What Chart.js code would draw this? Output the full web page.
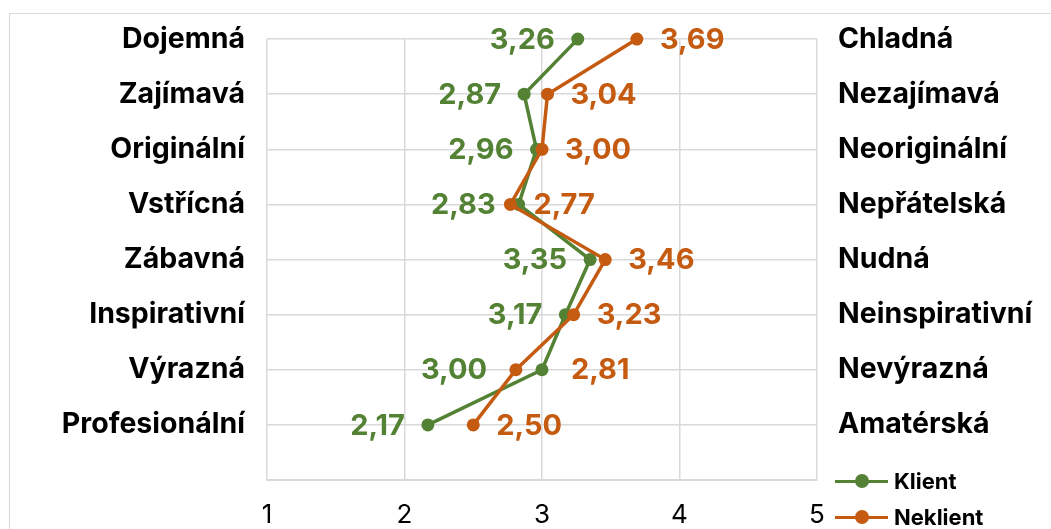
<!DOCTYPE html>
<html lang="cs">
<head>
<meta charset="utf-8">
<title>Vnímání značky – Klient vs. Neklient</title>
<script src="https://cdn.jsdelivr.net/npm/chart.js@4/dist/chart.umd.min.js"></script>
<style>
  html, body { margin: 0; padding: 0; background: #fff; }
  #wrap { position: relative; width: 1051px; height: 529px; overflow: hidden; }
  #frame { position: absolute; left: 9px; top: 13px; width: 1100px; height: 600px;
           border: 1px solid #d9d9d9; box-sizing: border-box; }
  #chart { position: absolute; left: 0; top: 0; }
  .legend { position: absolute; left: 835px; font: 700 22px Inter, sans-serif; color: #000; }
  .legend div { position: absolute; height: 30px; display: flex; align-items: center; white-space: nowrap; }
  .legend .mark { position: relative; width: 53px; height: 14px; margin-right: 6px; }
  .legend .mark i { position: absolute; left: 0; right: 0; top: 5.5px; height: 3.5px; }
  .legend .mark b { position: absolute; left: 20px; top: 0; width: 14px; height: 14px; border-radius: 50%; }
</style>
</head>
<body>
<div id="wrap">
  <div id="frame"></div>
  <canvas id="chart" width="1051" height="529"></canvas>
  <div class="legend" id="legend"></div>
</div>
<script>
// Data
const leftLabels = ['Dojemná', 'Zajímavá', 'Originální', 'Vstřícná', 'Zábavná', 'Inspirativní', 'Výrazná', 'Profesionální'];
const rightLabels = ['Chladná', 'Nezajímavá', 'Neoriginální', 'Nepřátelská', 'Nudná', 'Neinspirativní', 'Nevýrazná', 'Amatérská'];
const klient = [3.26, 2.87, 2.96, 2.83, 3.35, 3.17, 3.00, 2.17];
const neklient = [3.69, 3.04, 3.00, 2.77, 3.46, 3.23, 2.81, 2.50];
const xTicks = [1, 2, 3, 4, 5];

const GREEN = '#548235';
const ORANGE = '#c55a11';
const GRID = '#d9d9d9';
const n = leftLabels.length;

// rows go top -> bottom, so row i sits at y = n - i
function toPoints(vals) {
    return vals.map((v, i) => ({ x: v, y: n - i }));
}
function fmt(v) {
    return v.toFixed(2).replace('.', ',');
}

// draw value labels next to each point (green on the left, orange on the right)
// labels of the "Výrazná" row were pushed outward in the original
const valueLabels = {
    id: 'valueLabels',
    afterDatasetsDraw(chart, args, opts) {
        const ctx = chart.ctx;
        ctx.save();
        ctx.font = '700 29px Inter, sans-serif';
        ctx.textBaseline = 'middle';
        chart.data.datasets.forEach((ds, di) => {
            const meta = chart.getDatasetMeta(di);
            meta.data.forEach((pt, i) => {
                const left = ds.labelSide === 'left';
                const extra = (opts.pushRow === i) ? opts.push : 0;
                ctx.fillStyle = ds.borderColor;
                ctx.textAlign = left ? 'right' : 'left';
                const dx = left ? -(23 + extra) : (23 + extra);
                ctx.fillText(fmt(ds.data[i].x), pt.x + dx, pt.y + 1);
            });
        });
        ctx.restore();
    }
};

const chart = new Chart(document.getElementById('chart'), {
    type: 'scatter',
    data: {
        datasets: [
            {
                label: 'Klient',
                data: toPoints(klient),
                showLine: true,
                borderColor: GREEN,
                backgroundColor: GREEN,
                borderWidth: 3.5,
                pointRadius: 6.5,
                pointBorderWidth: 0,
                labelSide: 'left',
                order: 2
            },
            {
                label: 'Neklient',
                data: toPoints(neklient),
                showLine: true,
                borderColor: ORANGE,
                backgroundColor: ORANGE,
                borderWidth: 3.5,
                pointRadius: 6.5,
                pointBorderWidth: 0,
                labelSide: 'right',
                order: 1
            }
        ]
    },
    options: {
        responsive: false,
        devicePixelRatio: 1,
        animation: false,
        clip: false,
        layout: { padding: { top: 34, left: 0, right: 0, bottom: 0 } },
        plugins: {
            legend: { display: false },
            tooltip: { enabled: false },
            valueLabels: { pushRow: 6, push: 32 }
        },
        scales: {
            x: {
                type: 'linear',
                min: 1,
                max: 5,
                afterBuildTicks(scale) { scale.ticks = xTicks.map(v => ({ value: v })); },
                grid: { color: GRID, lineWidth: 1.5, drawTicks: false },
                border: { color: GRID, width: 2 },
                ticks: {
                    padding: 20,
                    color: '#000',
                    font: { family: 'Inter', size: 26, weight: '400' }
                },
                afterFit(scale) { scale.height = 49; }
            },
            y: {
                type: 'linear',
                position: 'left',
                min: 0,
                max: n,
                ticks: {
                    stepSize: 1,
                    autoSkip: false,
                    padding: 22,
                    color: '#000',
                    font: { family: 'Inter', size: 28.5, weight: '700' },
                    callback: v => (v >= 1 && v <= n ? leftLabels[n - v] : '')
                },
                grid: {
                    color: ctx => (ctx.tick && ctx.tick.value === 0 ? 'rgba(0,0,0,0)' : GRID),
                    lineWidth: 1.5,
                    drawTicks: false
                },
                border: { display: false },
                afterFit(scale) { scale.width = 267; }
            },
            yRight: {
                type: 'linear',
                position: 'right',
                min: 0,
                max: n,
                ticks: {
                    stepSize: 1,
                    autoSkip: false,
                    padding: 21,
                    color: '#000',
                    font: { family: 'Inter', size: 28.5, weight: '700' },
                    callback: v => (v >= 1 && v <= n ? rightLabels[n - v] : '')
                },
                grid: { display: false, drawTicks: false },
                border: { display: false },
                afterFit(scale) { scale.width = 1051 - 817; }
            }
        }
    },
    plugins: [valueLabels]
});

// legend (HTML, bottom right like the original)
const legend = document.getElementById('legend');
const legendRows = [['Klient', GREEN, 466], ['Neklient', ORANGE, 502]];
legendRows.forEach(([name, color, top]) => {
    const row = document.createElement('div');
    row.style.top = top + 'px';
    row.innerHTML = '<span class="mark"><i style="background:' + color + '"></i><b style="background:' + color + '"></b></span>' + name;
    legend.appendChild(row);
});
</script>
</body>
</html>
